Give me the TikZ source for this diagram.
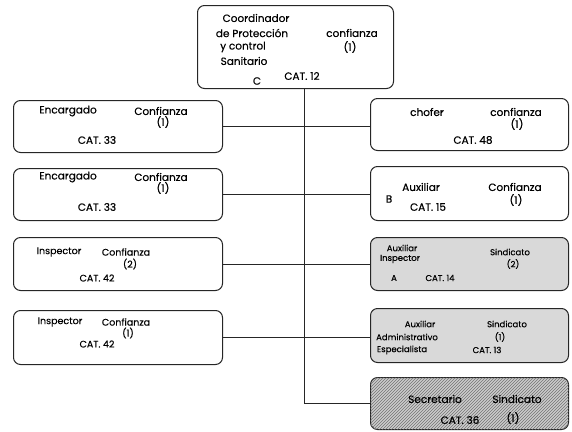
\documentclass[tikz,border=0pt]{standalone}
\usepackage{fontspec}
\setmainfont{Poppins}
\usetikzlibrary{patterns}
\begin{document}
\begin{tikzpicture}[x=1pt,y=-1pt,
  box/.style={draw=black!85, line width=1pt, rounded corners=7pt, anchor=north west, inner sep=0pt},
  graybox/.style={box, fill=gray!30},
  hatchbox/.style={box, fill=gray!40, postaction={pattern=north east lines, pattern color=black!55}},
  txt/.style={font=\fontsize{10.5}{11}\selectfont\addfontfeature{FakeBold=0.4}, inner sep=0pt},
  txtm/.style={font=\fontsize{9.5}{10}\selectfont\addfontfeature{FakeBold=0.4}, inner sep=0pt},
  txts/.style={font=\fontsize{8.5}{9}\selectfont\addfontfeature{FakeBold=0.4}, inner sep=0pt},
  conn/.style={draw=black!85, line width=0.7pt}]
\useasboundingbox (0,0) rectangle (572,431);
% boxes
\node[box, minimum width=196pt, minimum height=83pt] (top) at (197,5) {};
\node[box, minimum width=209pt, minimum height=52pt] (L1) at (13,100) {};
\node[box, minimum width=209pt, minimum height=52pt] (L2) at (13,168) {};
\node[box, minimum width=209pt, minimum height=53pt] (L3) at (13,237) {};
\node[box, minimum width=209pt, minimum height=54pt] (L4) at (13,310) {};
\node[box, minimum width=198pt, minimum height=52pt] (R1) at (370,98) {};
\node[box, minimum width=198pt, minimum height=54pt] (R2) at (370,166) {};
\node[graybox, minimum width=198pt, minimum height=53pt] (R3) at (370,237) {};
\node[graybox, minimum width=198pt, minimum height=54pt] (R4) at (370,308) {};
\node[hatchbox, minimum width=198pt, minimum height=52pt] (R5) at (370,377) {};
% connectors
\coordinate (spine) at (304,0);
\draw[conn] (top.south -| spine) |- (R5.west);
\draw[conn] (L1.east) -- (L1.east -| R1.west);
\draw[conn] (L2.east) -- (L2.east -| R2.west);
\draw[conn] (L3.east) -- (L3.east -| R3.west);
\draw[conn] (L4.east) -- (L4.east -| R4.west);
% top texts
\node[txt] (t1) at (256,18) {Coordinador};
\node[txt] (t2) at (252,33) {de Protección};
\node[txt] (t3) at (352,33) {confianza};
\node[txt] (t4) at (243,47) {y control};
\node[txt] (t5) at (350,47) {(1)};
\node[txt] (t6) at (244,61) {Sanitario};
\node[txt] (t7) at (257,81) {C};
\node[txt] (t8) at (302,76) {CAT. 12};
% L1
\node[txt] (a1) at (68,111) {Encargado};
\node[txt] (a2) at (161,111) {Confianza};
\node[txt] (a3) at (163,122) {(1)};
\node[txt] (a4) at (97,140) {CAT. 33};
% L2
\node[txt] (b1) at (68,177) {Encargado};
\node[txt] (b2) at (161,177) {Confianza};
\node[txt] (b3) at (163,188) {(1)};
\node[txt] (b4) at (97,207) {CAT. 33};
% L3
\node[txtm] (c1) at (59,252) {Inspector};
\node[txtm] (c2) at (126,252) {Confianza};
\node[txtm] (c3) at (130,264) {(2)};
\node[txtm] (c4) at (97,278) {CAT. 42};
% L4
\node[txtm] (d1) at (60,322) {Inspector};
\node[txtm] (d2) at (126,322) {Confianza};
\node[txtm] (d3) at (128,333) {(1)};
\node[txtm] (d4) at (97,344) {CAT. 42};
% R1
\node[txt] (e1) at (427,112) {chofer};
\node[txt] (e2) at (516,112) {confianza};
\node[txt] (e3) at (517,124) {(1)};
\node[txt] (e4) at (473,140) {CAT. 48};
% R2
\node[txt] (f1) at (421,187) {Auxiliar};
\node[txt] (f2) at (515,187) {Confianza};
\node[txt] (f3) at (389,199) {B};
\node[txt] (f4) at (516,200) {(1)};
\node[txt] (f5) at (428,207) {CAT. 15};
% R3
\node[txts] (g1) at (402,248) {Auxiliar};
\node[txts] (g2) at (400,259) {Inspector};
\node[txts] (g3) at (394,278) {A};
\node[txts] (g4) at (440,278) {CAT. 14};
\node[txts] (g5) at (510,252) {Sindicato};
\node[txts] (g6) at (513,264) {(2)};
% R4
\node[txts] (h1) at (420,324) {Auxiliar};
\node[txts] (h2) at (407,337) {Administrativo};
\node[txts] (h3) at (402,350) {Especialista};
\node[txts] (h4) at (487,350) {CAT. 13};
\node[txts] (h5) at (507,324) {Sindicato};
\node[txts] (h6) at (500,337) {(1)};
% R5
\node[txt] (k1) at (435,399) {Secretario};
\node[txt] (k2) at (517,399) {Sindicato};
\node[txt] (k3) at (460,420) {CAT. 36};
\node[txt] (k4) at (513,418) {(1)};
\end{tikzpicture}
\end{document}
